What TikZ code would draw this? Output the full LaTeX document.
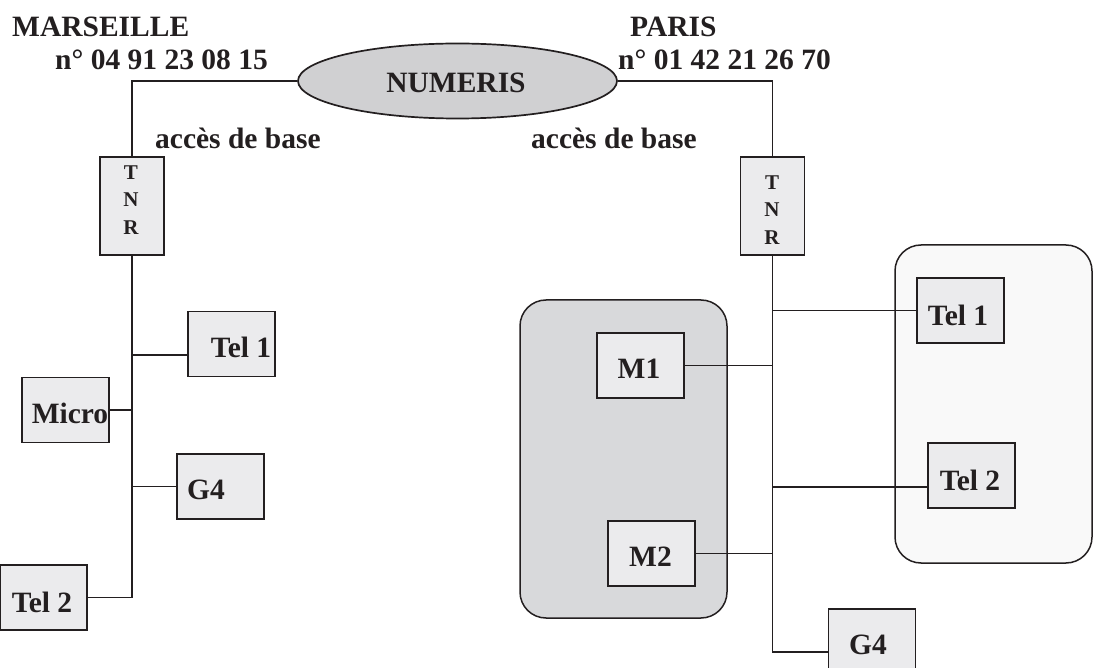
\documentclass[tikz,border=0pt]{standalone}
\usepackage{fontspec}
\setmainfont{Liberation Serif}
\usetikzlibrary{shapes.geometric}
\definecolor{ink}{HTML}{231F20}
\definecolor{boxfill}{HTML}{EBEBED}
\definecolor{grayzone}{HTML}{D8D9DB}
\definecolor{lightzone}{HTML}{F9F9F9}
\definecolor{cloud}{HTML}{D0D0D2}
\tikzset{
  wire/.style={draw=ink, line width=1.6pt},
  devbox/.style={draw=ink, fill=boxfill, line width=1.7pt, minimum width=87pt, minimum height=65pt, inner sep=0pt},
  tnrbox/.style={draw=ink, fill=boxfill, line width=1.7pt, minimum width=64pt, minimum height=98pt, inner sep=0pt},
  zone/.style={draw=ink, line width=1.5pt, rounded corners=26pt, inner sep=0pt},
  lbl/.style={font=\fontsize{29.5}{32}\selectfont\bfseries, text=ink, inner sep=0pt},
  tnrtxt/.style={font=\fontsize{21}{27.5}\selectfont\bfseries, text=ink, inner sep=0pt, align=center}
}
\begin{document}
\begin{tikzpicture}[x=1pt,y=-1pt]
\useasboundingbox (0,0) rectangle (1093,668);
% zones
\node[zone, fill=lightzone, minimum width=197pt, minimum height=318pt] (zoneTel) at (993.5,404) {};
\node[zone, fill=grayzone, minimum width=207pt, minimum height=318pt] (zoneM) at (623.5,459) {};
% top labels
\node[lbl, anchor=west] (marseille) at (12,27) {MARSEILLE};
\node[lbl, anchor=west] (numM) at (55,60) {n° 04 91 23 08 15};
\node[lbl, anchor=west] (paris) at (630,27) {PARIS};
\node[lbl, anchor=west] (numP) at (618,60) {n° 01 42 21 26 70};
\node[lbl, anchor=west] (accL) at (155,138) {accès de base};
\node[lbl, anchor=west] (accR) at (531,138) {accès de base};
% network
\node[ellipse, draw=ink, fill=cloud, line width=1.7pt, minimum width=319pt, minimum height=75pt, inner sep=0pt] (numeris) at (457.5,81) {};
\node[lbl] (numtxt) at (456,83) {NUMERIS};
% TNR
\node[tnrbox] (tnrL) at (132,206) {};
\node[tnrtxt] (tnrLt) at (131,200) {T\\N\\R};
\node[tnrbox] (tnrR) at (772.5,206) {};
\node[tnrtxt] (tnrRt) at (772,210) {T\\N\\R};
% top wires
\draw[wire] (numeris.west) -| (tnrL.north);
\draw[wire] (numeris.east) -| (tnrR.north);
% left side devices
\node[devbox] (tel1L) at (231.5,344) {};
\node[lbl] (tel1Lt) at (241,347) {Tel 1};
\node[devbox] (micro) at (65.5,410) {};
\node[lbl] (microt) at (70,413) {Micro};
\node[devbox] (g4L) at (220.5,486.5) {};
\node[lbl] (g4Lt) at (206,490) {G4};
\node[devbox] (tel2L) at (43.5,597.5) {};
\node[lbl] (tel2Lt) at (42,602) {Tel 2};
% left trunk
\coordinate (botL) at (132,597.5);
\coordinate (jTel1L) at (132,355);
\draw[wire] (tnrL.south) -- (botL) -- (tel2L.east);
\draw[wire] (jTel1L) -- (jTel1L -| tel1L.west);
\draw[wire] (micro.east) -- (micro.east -| botL);
\draw[wire] (g4L.west) -- (g4L.west -| botL);
% right side devices
\node[devbox] (m1) at (640.5,365.5) {};
\node[lbl] (m1t) at (639,369) {M1};
\node[devbox] (m2) at (651.5,553.5) {};
\node[lbl] (m2t) at (650.5,557) {M2};
\node[devbox] (tel1R) at (960.5,310.5) {};
\node[lbl] (tel1Rt) at (958,315) {Tel 1};
\node[devbox] (tel2R) at (971.5,475.5) {};
\node[lbl] (tel2Rt) at (970,480) {Tel 2};
\node[devbox] (g4R) at (872,641.5) {};
\node[lbl] (g4Rt) at (868,645) {G4};
% right trunk
\coordinate (botR) at (772.5,652);
\coordinate (jTel2R) at (772.5,487);
\draw[wire] (tnrR.south) -- (botR) -- (botR -| g4R.west);
\draw[wire] (m1.east) -- (m1.east -| botR);
\draw[wire] (m2.east) -- (m2.east -| botR);
\draw[wire] (tel1R.west -| botR) -- (tel1R.west);
\draw[wire] (jTel2R) -- (jTel2R -| tel2R.west);
\end{tikzpicture}
\end{document}
